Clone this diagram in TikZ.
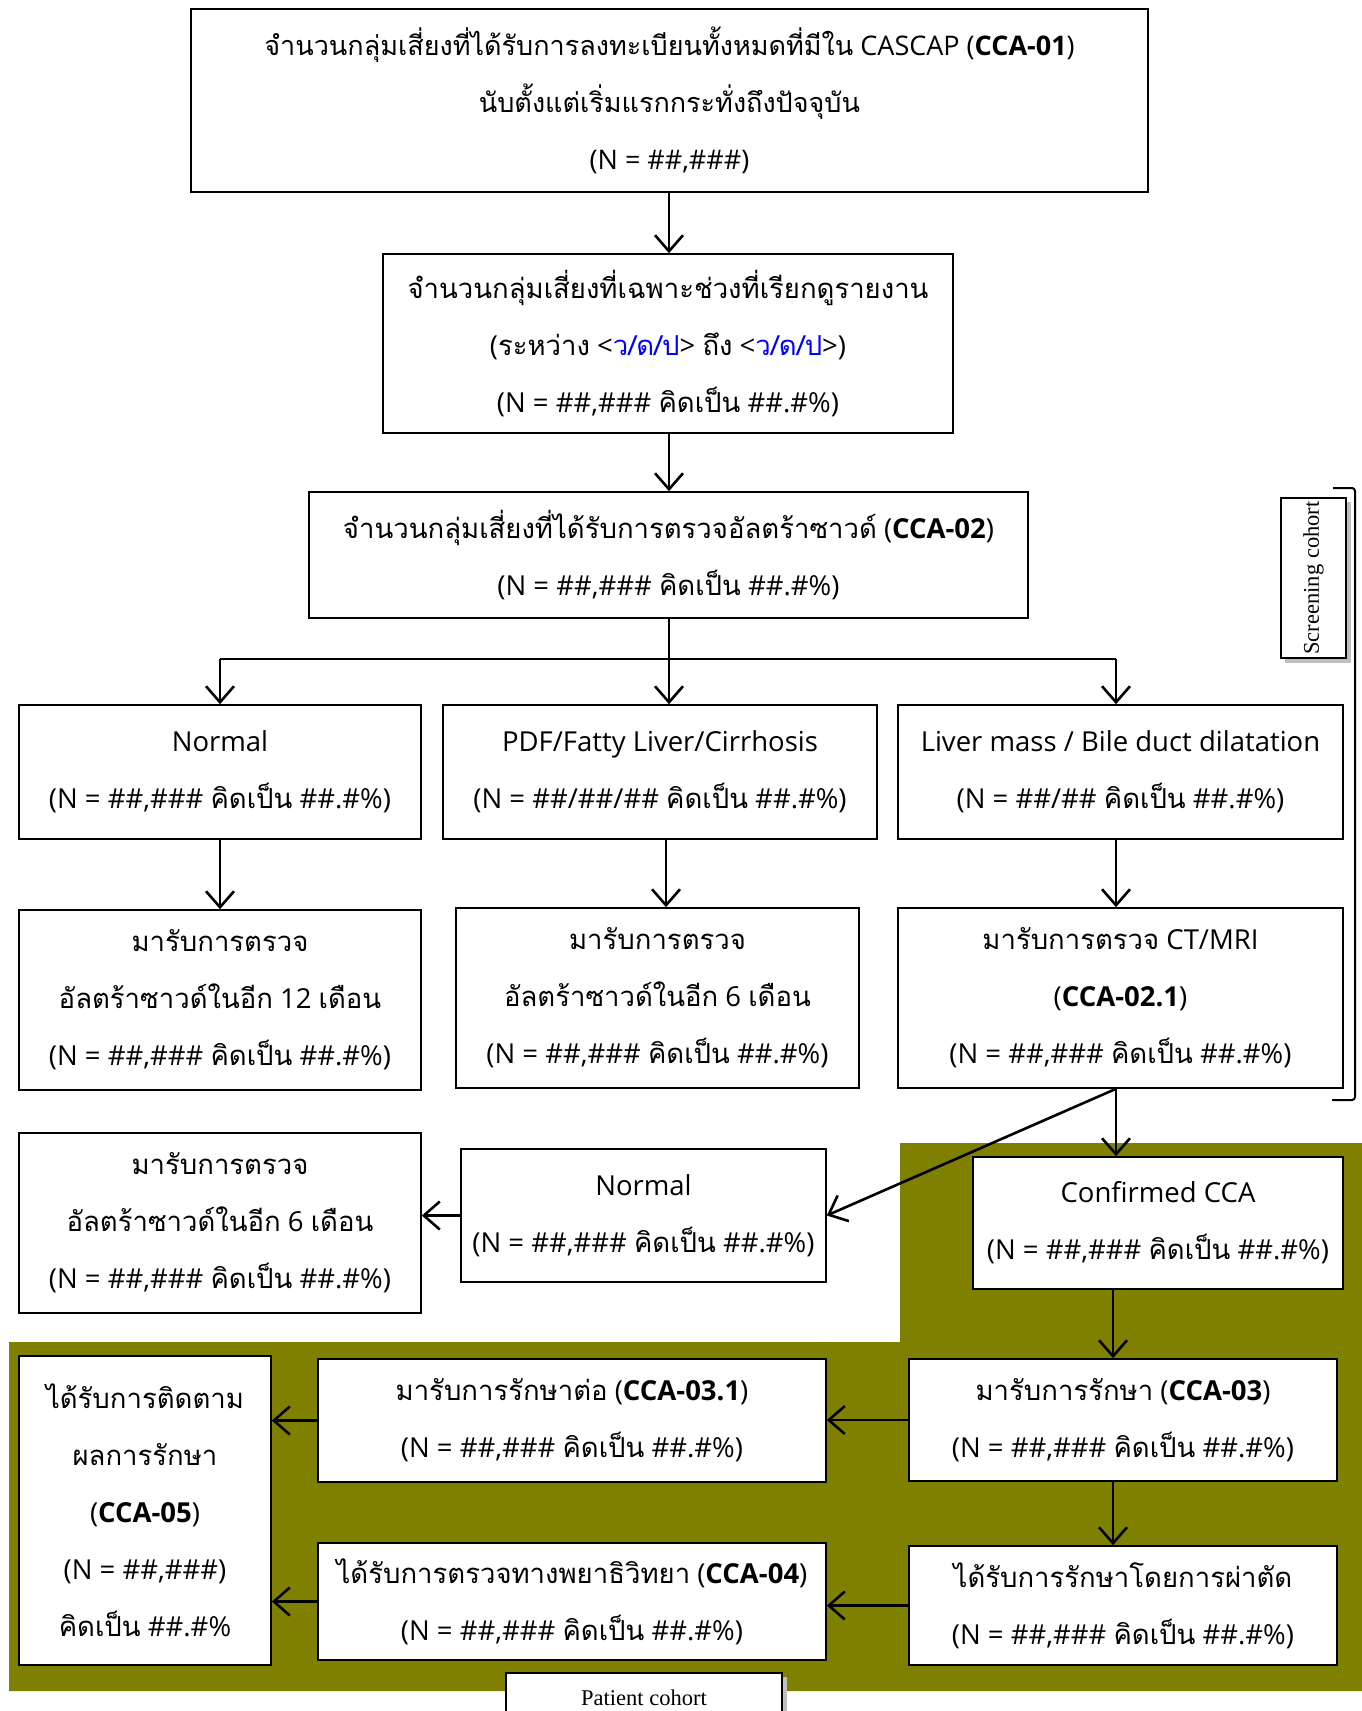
\documentclass[tikz,border=0pt]{standalone}
\usepackage{fontspec}
\setmainfont{Open Sans}
\newfontfamily\thfont[Script=Thai]{Loma}
\newcommand\thx[1]{{\thfont #1}}
\newfontfamily\serifx{Liberation Serif}
\usetikzlibrary{arrows.meta}
\definecolor{olivebg}{RGB}{128,128,0}
\definecolor{datblue}{RGB}{0,0,255}
\begin{document}
\begin{tikzpicture}[x=1pt,y=-1pt,
  box/.style={draw=black, line width=1.6pt, fill=white, inner sep=0pt, align=center,
    font=\fontsize{27.5}{57}\selectfont},
  arr/.style={line width=2.6pt, -{Straight Barb[length=16pt,width=28pt,line width=2.6pt]}},
  plain/.style={line width=2.6pt},
  tag/.style={draw=black, line width=1.4pt, fill=white, inner sep=0pt, font=\serifx\fontsize{22.5}{24}\selectfont},
  shade/.style={fill=black!25, draw=none}
]
\useasboundingbox (0,0) rectangle (1362,1711);
\fill[white] (0,0) rectangle (1362,1711);
% olive region
\fill[olivebg] (9,1342) -- (900,1342) -- (900,1143) -- (1362,1143) -- (1362,1691) -- (9,1691) -- cycle;

% boxes
\node[box, minimum width=957pt, minimum height=183pt, font=\fontsize{27}{57}\selectfont] (b1) at (669.5,100.5)
 {\thx{จำนวนกลุ่มเสี่ยงที่ได้รับการลงทะเบียนทั้งหมดที่มีใน} CASCAP (\textbf{CCA-01})\\\thx{นับตั้งแต่เริ่มแรกกระทั่งถึงปัจจุบัน}\\(N = \#\#,\#\#\#)};
\node[box, minimum width=570pt, minimum height=179pt] (b2) at (668,343.5)
 {\thx{จำนวนกลุ่มเสี่ยงที่เฉพาะช่วงที่เรียกดูรายงาน}\\(\thx{ระหว่าง} <\textcolor{datblue}{\thx{ว/ด/ป}}> \thx{ถึง} <\textcolor{datblue}{\thx{ว/ด/ป}}>)\\(N = \#\#,\#\#\# \thx{คิดเป็น} \#\#.\#\%)};
\node[box, minimum width=719pt, minimum height=126pt] (b3) at (668.5,555)
 {\thx{จำนวนกลุ่มเสี่ยงที่ได้รับการตรวจอัลตร้าซาวด์} (\textbf{CCA-02})\\(N = \#\#,\#\#\# \thx{คิดเป็น} \#\#.\#\%)};

\node[box, minimum width=402pt, minimum height=134pt] (n1) at (220,772)
 {Normal\\(N = \#\#,\#\#\# \thx{คิดเป็น} \#\#.\#\%)};
\node[box, minimum width=434pt, minimum height=134pt] (n2) at (660,772)
 {PDF/Fatty Liver/Cirrhosis\\(N = \#\#/\#\#/\#\# \thx{คิดเป็น} \#\#.\#\%)};
\node[box, minimum width=445pt, minimum height=134pt] (n3) at (1120.5,772)
 {Liver mass / Bile duct dilatation\\(N = \#\#/\#\# \thx{คิดเป็น} \#\#.\#\%)};

\node[box, minimum width=402pt, minimum height=180pt] (m1) at (220,1000)
 {\thx{มารับการตรวจ}\\\thx{อัลตร้าซาวด์ในอีก} 12 \thx{เดือน}\\(N = \#\#,\#\#\# \thx{คิดเป็น} \#\#.\#\%)};
\node[box, minimum width=403pt, minimum height=180pt] (m2) at (657.5,998)
 {\thx{มารับการตรวจ}\\\thx{อัลตร้าซาวด์ในอีก} 6 \thx{เดือน}\\(N = \#\#,\#\#\# \thx{คิดเป็น} \#\#.\#\%)};
\node[box, minimum width=445pt, minimum height=180pt] (m3) at (1120.5,998)
 {\thx{มารับการตรวจ} CT/MRI\\(\textbf{CCA-02.1})\\(N = \#\#,\#\#\# \thx{คิดเป็น} \#\#.\#\%)};

\node[box, minimum width=402pt, minimum height=180pt] (d1) at (220,1223)
 {\thx{มารับการตรวจ}\\\thx{อัลตร้าซาวด์ในอีก} 6 \thx{เดือน}\\(N = \#\#,\#\#\# \thx{คิดเป็น} \#\#.\#\%)};
\node[box, minimum width=365pt, minimum height=133pt] (nm) at (643.5,1215.5)
 {Normal\\(N = \#\#,\#\#\# \thx{คิดเป็น} \#\#.\#\%)};
\node[box, minimum width=370pt, minimum height=132pt] (cc) at (1158,1223)
 {Confirmed CCA\\(N = \#\#,\#\#\# \thx{คิดเป็น} \#\#.\#\%)};

\node[box, minimum width=252pt, minimum height=309pt] (f5) at (145,1510.5)
 {\thx{ได้รับการติดตาม}\\\thx{ผลการรักษา}\\(\textbf{CCA-05})\\(N = \#\#,\#\#\#)\\\thx{คิดเป็น} \#\#.\#\%};
\node[box, minimum width=508pt, minimum height=123pt] (t31) at (572,1420.5)
 {\thx{มารับการรักษาต่อ} (\textbf{CCA-03.1})\\(N = \#\#,\#\#\# \thx{คิดเป็น} \#\#.\#\%)};
\node[box, minimum width=508pt, minimum height=117pt] (t4) at (572,1601.5)
 {\thx{ได้รับการตรวจทางพยาธิวิทยา} (\textbf{CCA-04})\\(N = \#\#,\#\#\# \thx{คิดเป็น} \#\#.\#\%)};
\node[box, minimum width=428pt, minimum height=122pt] (t3) at (1123,1420)
 {\thx{มารับการรักษา} (\textbf{CCA-03})\\(N = \#\#,\#\#\# \thx{คิดเป็น} \#\#.\#\%)};
\node[box, minimum width=428pt, minimum height=119pt] (sg) at (1123,1605.5)
 {\thx{ได้รับการรักษาโดยการผ่าตัด}\\(N = \#\#,\#\#\# \thx{คิดเป็น} \#\#.\#\%)};

% cohort tags
\fill[shade] (1285,502) rectangle (1351,663);
\node[tag, minimum width=65pt, minimum height=160pt] (sc) at (1313.5,578)
 {\rotatebox{90}{Screening cohort}};
\fill[shade] (510,1677) rectangle (787,1720);
\node[tag, minimum width=276pt, minimum height=50pt] (pc) at (644,1698)
 {Patient cohort};

% bracket
\coordinate (bt) at (1333,488);
\coordinate (bb) at (1332,1100);
\draw[line width=2pt, rounded corners=3pt] (bt) -- (bt -| 1355,0) -- (bb -| 1355,0) -- (bb);

% connectors
\coordinate (rx) at (1116,0);
\coordinate (br) at (669,659);
\draw[arr] (b1.south -| br) -- (b2.north -| br);
\draw[arr] (b2.south -| br) -- (b3.north -| br);
\draw[plain] (b3.south -| br) -- (br);
\draw[plain] (br -| n1.north) -- (br -| rx);
\draw[arr] (br -| n1.north) -- (n1.north);
\draw[arr] (br) -- (br |- n2.north);
\draw[arr] (br -| rx) -- (rx |- n3.north);
\draw[arr] (n1.south) -- (n1.south |- m1.north);
\draw[arr] (n2.south -| 666,0) -- (m2.north -| 666,0);
\draw[arr] (rx |- n3.south) -- (rx |- m3.north);
\draw[arr] (rx |- m3.south) -- (rx |- cc.north);
\draw[arr] (rx |- m3.south) -- (nm.east);
\draw[arr] (nm.west) -- (nm.west -| d1.east);
\draw[arr] (cc.south -| 1113,0) -- (t3.north -| 1113,0);
\draw[arr] (t3.west) -- (t3.west -| t31.east);
\draw[arr] (t3.south -| 1113,0) -- (sg.north -| 1113,0);
\draw[arr] (sg.west) -- (sg.west -| t4.east);
\draw[arr] (t31.west) -- (t31.west -| f5.east);
\draw[arr] (t4.west) -- (t4.west -| f5.east);
\end{tikzpicture}
\end{document}
